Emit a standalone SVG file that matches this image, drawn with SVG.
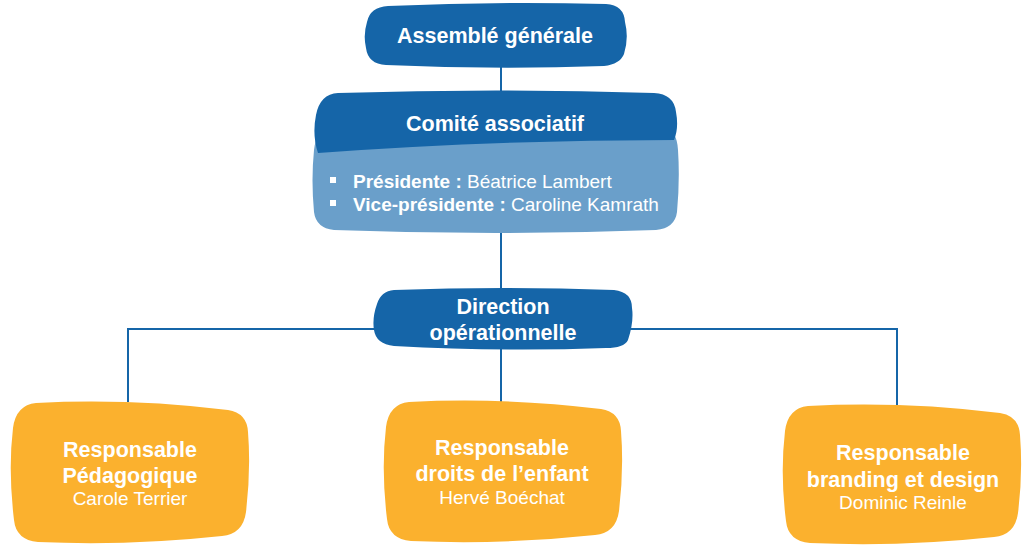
<svg xmlns="http://www.w3.org/2000/svg" width="1024" height="549" viewBox="0 0 1024 549">
<style>
.dark{fill:#1565a8}
.light{fill:#6a9fca}
.orange{fill:#fbb12e}
.b{font-family:"Liberation Sans",Arial,sans-serif;font-weight:bold;font-size:21.5px;fill:#fff;text-anchor:middle}
.n{font-family:"Liberation Sans",Arial,sans-serif;font-size:19px;fill:#fff;text-anchor:middle}
.li{font-family:"Liberation Sans",Arial,sans-serif;font-size:19px;fill:#fff}
.c{stroke:#1565a8;stroke-width:2;fill:none}
</style>
<rect width="1024" height="549" fill="#fff"/>
<g id="connectors">
<path class="c" d="M501 64V95"/>
<path class="c" d="M501 228V292"/>
<path class="c" d="M128 402V329H897V405"/>
<path class="c" d="M501 346V405"/>
</g>
<g id="assemble">
<path class="dark" d="M388 6 Q496 1 606 4 Q624 5 625 22 Q629 38 624 54 Q620 64 604 66 Q496 70 386 65 Q368 64 366 48 Q363 35 367 22 Q370 7 388 6 Z"/>
<text class="b" x="495" y="43">Assemblé générale</text>
</g>
<g id="comite">
<path class="light" d="M330 128 Q496 124 664 128 Q677 130 678 150 Q680 180 677 212 Q675 228 656 230 Q496 236 334 230 Q316 228 314 212 Q311 180 314 150 Q316 130 330 128 Z"/>
<path class="dark" d="M338 93 Q496 88 654 93 Q674 94 676 112 Q679 128 674 140 Q496 140 318 153 Q312 135 316 115 Q320 94 338 93 Z"/>
<text class="b" x="495" y="131">Comité associatif</text>
<rect x="330" y="177" width="6" height="6" fill="#fff"/>
<rect x="330" y="200" width="6" height="6" fill="#fff"/>
<text class="li" x="353" y="188"><tspan font-weight="bold">Présidente :</tspan> Béatrice Lambert</text>
<text class="li" x="353" y="211"><tspan font-weight="bold">Vice-présidente :</tspan> Caroline Kamrath</text>
</g>
<g id="direction">
<path class="dark" d="M394 290 Q503 286 614 290 Q632 292 632 308 Q634 322 628 340 Q624 348 606 348 Q503 352 394 346 Q376 344 374 330 Q372 318 377 304 Q381 291 394 290 Z"/>
<text class="b" x="503" y="314">Direction</text>
<text class="b" x="503" y="340">opérationnelle</text>
</g>
<g id="pedagogique">
<path class="orange" d="M36 403 Q130 398 228 410 Q247 413 248 432 Q251 470 246 512 Q243 534 222 536 Q130 546 38 542 Q16 540 14 520 Q8 470 13 428 Q16 405 36 403 Z"/>
<text class="b" x="130" y="457">Responsable</text>
<text class="b" x="130" y="483">Pédagogique</text>
<text class="n" x="130" y="505">Carole Terrier</text>
</g>
<g id="droits">
<path class="orange" d="M409 402 Q503 397 601 409 Q620 412 621 431 Q624 470 619 511 Q616 533 595 535 Q503 545 411 541 Q389 539 387 519 Q381 470 386 427 Q389 404 409 402 Z"/>
<text class="b" x="502" y="455">Responsable</text>
<text class="b" x="502" y="481">droits de l’enfant</text>
<text class="n" x="502" y="504">Hervé Boéchat</text>
</g>
<g id="branding">
<path class="orange" d="M808 406 Q903 401 1000 413 Q1019 416 1020 435 Q1023 474 1018 513 Q1015 535 994 537 Q903 547 810 543 Q788 541 786 521 Q780 474 785 431 Q788 408 808 406 Z"/>
<text class="b" x="903" y="460">Responsable</text>
<text class="b" x="903" y="487">branding et design</text>
<text class="n" x="903" y="509">Dominic Reinle</text>
</g>
</svg>
